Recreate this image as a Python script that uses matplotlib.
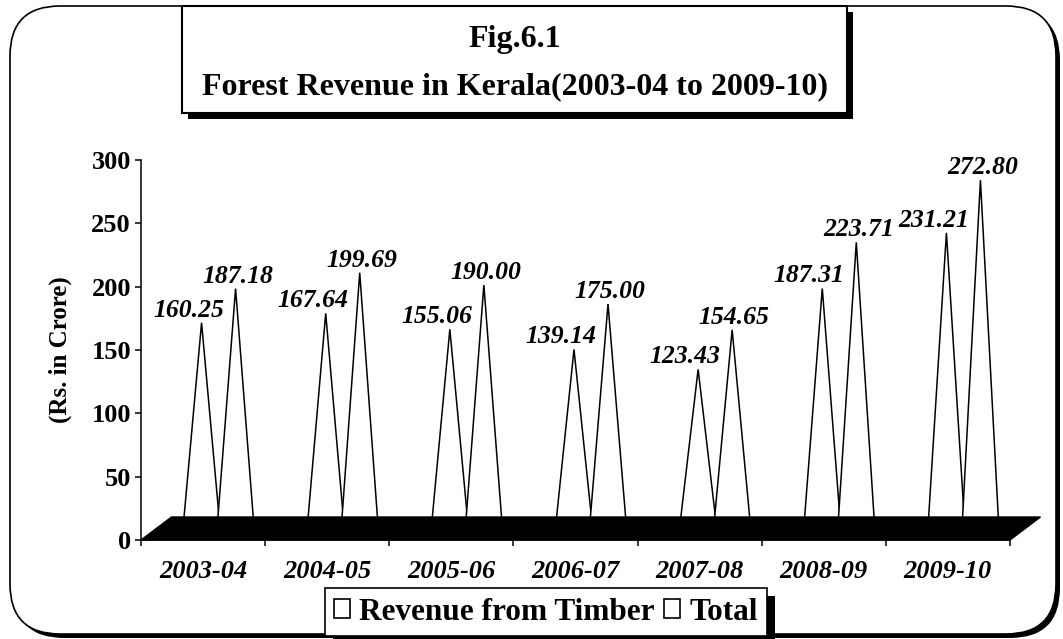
import matplotlib
matplotlib.use("Agg")
import matplotlib.pyplot as plt
from matplotlib.patches import Rectangle, FancyBboxPatch, Patch
import matplotlib.patheffects as pe

# ---------------- data ----------------
categories = ["2003-04", "2004-05", "2005-06", "2006-07", "2007-08", "2008-09", "2009-10"]
timber = [160.25, 167.64, 155.06, 139.14, 123.43, 187.31, 231.21]
total = [187.18, 199.69, 190.00, 175.00, 154.65, 223.71, 272.80]
series_names = ["Revenue from Timber", "Total"]
y_ticks = [0, 50, 100, 150, 200, 250, 300]
title_lines = ["Fig.6.1", "Forest Revenue in Kerala(2003-04 to 2009-10)"]
y_label = "(Rs. in Crore)"

# ---------------- figure ----------------
W, H, DPI = 1063, 639, 100
PX = 72.0 / DPI  # points per pixel
plt.rcParams['font.family'] = ['Liberation Serif', 'DejaVu Serif']
fig = plt.figure(figsize=(W / DPI, H / DPI), dpi=DPI)
fig.patch.set_facecolor('white')

# background "canvas" axes in pixel units for decorations
bg = fig.add_axes([0, 0, 1, 1])
bg.set_xlim(0, W)
bg.set_ylim(H, 0)
bg.axis('off')
bg.set_zorder(0)

border = FancyBboxPatch((10, 6), 1046, 628, boxstyle="round,pad=0,rounding_size=50",
                        fc='white', ec='black', lw=1.2)
border.set_path_effects([pe.SimplePatchShadow(offset=(4 * PX, -4 * PX), shadow_rgbFace='black', alpha=1),
                         pe.Normal()])
bg.add_patch(border)

tbox = Rectangle((182, 6), 665, 107, fc='white', ec='black', lw=1.5)
tbox.set_path_effects([pe.SimplePatchShadow(offset=(6 * PX, -6 * PX), shadow_rgbFace='black', alpha=1),
                       pe.Normal()])
bg.add_patch(tbox)
bg.text(514.5, 40, title_lines[0], ha='center', va='center', fontsize=23, fontweight='bold')
bg.text(514.5, 87, title_lines[1], ha='center', va='center', fontsize=23, fontweight='bold')

bg.text(60, 350, y_label, rotation=90, ha='center', va='center', fontsize=18, fontweight='bold')

# ---------------- main axes ----------------
ax_l, ax_r, ax_t, ax_b = 141, 1010, 160, 540
ax = fig.add_axes([ax_l / W, 1 - ax_b / H, (ax_r - ax_l) / W, (ax_b - ax_t) / H])
ax.set_zorder(1)
ax.patch.set_visible(False)
n = len(categories)
ax.set_xlim(0, n)
ax.set_ylim(0, 300)

ppx = (ax_r - ax_l) / n          # pixels per category
ppy = (ax_b - ax_t) / 300.0      # pixels per value unit
floor_dx, floor_dy = 30.5 / ppx, 23 / ppy
mid_dx, mid_dy = 15.5 / ppx, 14.3 / ppy
sep = 0.137
half_w = 0.1475

label_dx = [-13, 2]
for s, vals in enumerate([timber, total]):
    sign = -1 if s == 0 else 1
    for i, v in enumerate(vals):
        cx = i + 0.5 + sign * sep + mid_dx
        ax.fill([cx - half_w, cx, cx + half_w], [mid_dy, v + mid_dy, mid_dy],
                fc='white', ec='black', lw=1.1, zorder=2, clip_on=False)
        ax.annotate(f"{v:.2f}", (cx, v + mid_dy), xytext=(label_dx[s] * PX, 6 * PX),
                    textcoords='offset points', ha='center', va='baseline',
                    fontsize=18.5, fontweight='bold', fontstyle='italic', zorder=4,
                    annotation_clip=False)

# black 3D floor
ax.fill([0, n, n + floor_dx, floor_dx], [0, 0, floor_dy, floor_dy],
        color='black', zorder=3, clip_on=False)

for sp in ['top', 'right']:
    ax.spines[sp].set_visible(False)
for sp in ['left', 'bottom']:
    ax.spines[sp].set_linewidth(1.1)

ax.set_yticks(y_ticks)
ax.set_yticklabels([str(t) for t in y_ticks], fontsize=19, fontweight='bold')
ax.tick_params(axis='y', length=6 * PX, width=1.1, pad=4 * PX)

ax.set_xticks(range(n + 1))
ax.set_xticklabels([''] * (n + 1))
ax.set_xticks([i + 0.5 for i in range(n)], minor=True)
ax.set_xticklabels(categories, minor=True, fontsize=19, fontweight='bold', fontstyle='italic')
ax.tick_params(axis='x', which='major', length=6 * PX, width=1.1)
ax.tick_params(axis='x', which='minor', length=0, pad=20 * PX)

# ---------------- legend ----------------
handles = [Patch(fc='white', ec='black', lw=1.2, label=nm) for nm in series_names]
leg = fig.legend(handles=handles, loc='center', bbox_to_anchor=(546 / W, 1 - 612 / H), ncol=2,
                 prop=dict(family='Liberation Serif', weight='bold', size=22.5),
                 frameon=True, fancybox=False, edgecolor='black', framealpha=1,
                 handlelength=0.5, handleheight=0.6, handletextpad=0.3, columnspacing=0.3,
                 borderpad=0.3, borderaxespad=0)
leg.get_frame().set_linewidth(1.2)
leg.get_frame().set_path_effects([pe.SimplePatchShadow(offset=(8 * PX, -8 * PX), shadow_rgbFace='black', alpha=1),
                                  pe.Normal()])

fig.savefig("out.png", dpi=DPI)
